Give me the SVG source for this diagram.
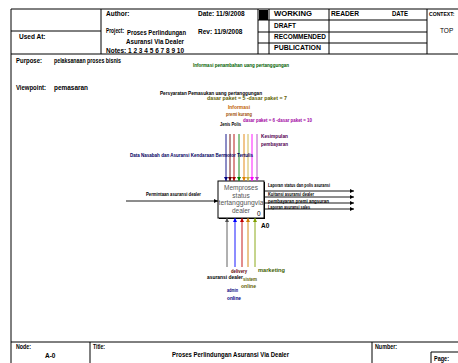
<svg xmlns="http://www.w3.org/2000/svg" width="458" height="363" viewBox="0 0 458 363">
<style>
.f{fill:none;stroke:#000;stroke-width:1}
.h{font-family:"Liberation Sans",Arial,sans-serif;font-size:6.5px;font-weight:bold;fill:#000}
.hn{font-family:"Liberation Sans",Arial,sans-serif;font-size:6.5px;fill:#000}
.l{font-family:"Liberation Sans",Arial,sans-serif;font-size:5px;font-weight:bold}
.bx{font-family:"Liberation Sans",Arial,sans-serif;font-size:6.5px;fill:#555;text-anchor:middle}
.a{stroke-width:0.9;fill:none}
</style>
<defs>
<marker id="ar" viewBox="0 0 6 6" refX="6" refY="3" markerWidth="4" markerHeight="4" orient="auto" markerUnits="userSpaceOnUse"><path d="M0,0L6,3L0,6z" fill="context-stroke"/></marker>
</defs>
<rect width="458" height="363" fill="#fff"/>
<g id="frame">
<path class="f" d="M11,370V9H470M11,54H470M11,342H470M101,9V54M11,31H101M258,9V54M269,9V54M329,9V54M427,9V54M258,20H427M258,32H427M258,43H427M90,342V370M372,342V370M431,370V352H470"/>
<rect x="259" y="10" width="9" height="10" fill="#000"/>
<text class="h" x="106" y="16">Author:</text>
<text class="h" x="198" y="16">Date: 11/9/2008</text>
<text class="h" x="106" y="33" textLength="18" lengthAdjust="spacingAndGlyphs">Project:</text>
<text class="h" x="127" y="35" textLength="59" lengthAdjust="spacingAndGlyphs">Proses Perlindungan</text>
<text class="h" x="126" y="44" textLength="58" lengthAdjust="spacingAndGlyphs">Asuransi Via Dealer</text>
<text class="h" x="106" y="53">Notes:  1 2 3 4 5 6 7 8 9 10</text>
<text class="h" x="198" y="34">Rev: 11/9/2008</text>
<text class="h" x="19" y="39">Used At:</text>
<text class="h" x="274" y="16" textLength="38" lengthAdjust="spacingAndGlyphs">WORKING</text>
<text class="h" x="274" y="28" textLength="22" lengthAdjust="spacingAndGlyphs">DRAFT</text>
<text class="h" x="274" y="39" textLength="52" lengthAdjust="spacingAndGlyphs">RECOMMENDED</text>
<text class="h" x="274" y="50" textLength="47" lengthAdjust="spacingAndGlyphs">PUBLICATION</text>
<text class="h" x="331" y="16" textLength="28" lengthAdjust="spacingAndGlyphs">READER</text>
<text class="h" x="392" y="16" textLength="16" lengthAdjust="spacingAndGlyphs">DATE</text>
<text class="h" x="429" y="16" style="font-size:5.1px">CONTEXT:</text>
<text class="hn" x="440" y="33">TOP</text>
<text class="h" x="16" y="63" textLength="26" lengthAdjust="spacingAndGlyphs">Purpose:</text>
<text class="h" x="54" y="63" textLength="67" lengthAdjust="spacingAndGlyphs">pelaksanaan proses bisnis</text>
<text class="h" x="16" y="90" textLength="30" lengthAdjust="spacingAndGlyphs">Viewpoint:</text>
<text class="h" x="54" y="90" textLength="34" lengthAdjust="spacingAndGlyphs">pemasaran</text>
<text class="h" x="16" y="349" textLength="15" lengthAdjust="spacingAndGlyphs">Node:</text>
<text class="h" x="45" y="358">A-0</text>
<text class="h" x="93" y="349" textLength="12" lengthAdjust="spacingAndGlyphs">Title:</text>
<text class="h" x="172" y="357" textLength="117" lengthAdjust="spacingAndGlyphs">Proses Perlindungan Asuransi Via Dealer</text>
<text class="h" x="375" y="349" textLength="22" lengthAdjust="spacingAndGlyphs">Number:</text>
<text class="h" x="434" y="361" textLength="15" lengthAdjust="spacingAndGlyphs">Page:</text>
</g>
<g id="node-A0">
<rect x="219" y="182" width="46" height="37" fill="#000"/>
<rect x="218" y="181" width="46" height="37" fill="#fff" stroke="#000" stroke-width="1"/>
<text class="bx" x="241" y="190">Memproses</text>
<text class="bx" x="241" y="198">status</text>
<text class="bx" x="241" y="205" textLength="45" lengthAdjust="spacingAndGlyphs">tertanggungvia</text>
<text class="bx" x="241" y="213">dealer</text>
<text class="hn" x="257" y="216" font-size="6">0</text>
<text class="h" x="261" y="228">A0</text>
</g>
<g id="connectors">
<line class="a" x1="226" y1="134" x2="226" y2="181" stroke="#000080" marker-end="url(#ar)"/>
<line class="a" x1="230" y1="134" x2="230" y2="181" stroke="#600000" marker-end="url(#ar)"/>
<line class="a" x1="234" y1="134" x2="234" y2="181" stroke="#b00000" marker-end="url(#ar)"/>
<line class="a" x1="239" y1="134" x2="239" y2="181" stroke="#008000" marker-end="url(#ar)"/>
<line class="a" x1="244" y1="134" x2="244" y2="181" stroke="#e08000" marker-end="url(#ar)"/>
<line class="a" x1="248" y1="134" x2="248" y2="181" stroke="#c8b040" marker-end="url(#ar)"/>
<line class="a" x1="252" y1="134" x2="252" y2="181" stroke="#ff00ff" marker-end="url(#ar)"/>
<line class="a" x1="257" y1="134" x2="257" y2="181" stroke="#b040c0" marker-end="url(#ar)"/>
<line class="a" x1="126" y1="201" x2="218" y2="201" stroke="#000" marker-end="url(#ar)"/>
<line class="a" x1="264" y1="191" x2="354" y2="191" stroke="#000" marker-end="url(#ar)"/>
<line class="a" x1="264" y1="197" x2="354" y2="197" stroke="#000" marker-end="url(#ar)"/>
<line class="a" x1="264" y1="203" x2="354" y2="203" stroke="#000" marker-end="url(#ar)"/>
<line class="a" x1="264" y1="209" x2="354" y2="209" stroke="#000" marker-end="url(#ar)"/>
<line class="a" x1="227" y1="267" x2="227" y2="218" stroke="#505050" marker-end="url(#ar)"/>
<line class="a" x1="235" y1="267" x2="235" y2="218" stroke="#0000ff" marker-end="url(#ar)"/>
<line class="a" x1="242" y1="267" x2="242" y2="218" stroke="#c00000" marker-end="url(#ar)"/>
<line class="a" x1="248" y1="267" x2="248" y2="218" stroke="#d08000" marker-end="url(#ar)"/>
<line class="a" x1="255" y1="267" x2="255" y2="218" stroke="#80a000" marker-end="url(#ar)"/>
<text class="l" x="193" y="67" fill="#006000" textLength="96" lengthAdjust="spacingAndGlyphs">Informasi penambahan uang pertanggungan</text>
<text class="l" x="160" y="95" fill="#000" textLength="102" lengthAdjust="spacingAndGlyphs">Persyaratan Pemasukan uang pertanggungan</text>
<text class="l" x="207" y="100" fill="#606000" textLength="80" lengthAdjust="spacingAndGlyphs">dasar paket = 5 -dasar paket = 7</text>
<text class="l" x="228" y="109" fill="#c06000" textLength="22" lengthAdjust="spacingAndGlyphs">Informasi</text>
<text class="l" x="226" y="116" fill="#a05000" textLength="26" lengthAdjust="spacingAndGlyphs">premi kurang</text>
<text class="l" x="243" y="122" fill="#a000a0" textLength="69" lengthAdjust="spacingAndGlyphs">dasar paket = 6 -dasar paket = 10</text>
<text class="l" x="220" y="126" fill="#000" textLength="21" lengthAdjust="spacingAndGlyphs">Jenis Polis</text>
<text class="l" x="261" y="138" fill="#500050" textLength="27" lengthAdjust="spacingAndGlyphs">Kesimpulan</text>
<text class="l" x="261" y="146" fill="#500050" textLength="27" lengthAdjust="spacingAndGlyphs">pembayaran</text>
<text class="l" x="130" y="157" fill="#000060" textLength="123" lengthAdjust="spacingAndGlyphs">Data Nasabah dan Asuransi Kendaraan Bermotor Tertulis</text>
<text class="l" x="146" y="196" fill="#000" textLength="55" lengthAdjust="spacingAndGlyphs">Permintaan asuransi dealer</text>
<text class="l" x="268" y="187" fill="#000" textLength="62" lengthAdjust="spacingAndGlyphs">Laporan status dan polis asuransi</text>
<text class="l" x="268" y="196" fill="#000" textLength="46" lengthAdjust="spacingAndGlyphs">Kuitansi asuransi dealer</text>
<text class="l" x="268" y="203" fill="#000" textLength="61" lengthAdjust="spacingAndGlyphs">pembayaran premi angsuran</text>
<text class="l" x="268" y="209" fill="#000" textLength="42" lengthAdjust="spacingAndGlyphs">Laporan asuransi sales</text>
<text class="l" x="231" y="273" fill="#600000" textLength="16" lengthAdjust="spacingAndGlyphs">delivery</text>
<text class="l" x="258" y="272" fill="#406000" textLength="27" lengthAdjust="spacingAndGlyphs">marketing</text>
<text class="l" x="207" y="279" fill="#000" textLength="36" lengthAdjust="spacingAndGlyphs">asuransi dealer</text>
<text class="l" x="243" y="281" fill="#606000" textLength="14" lengthAdjust="spacingAndGlyphs">sistem</text>
<text class="l" x="241" y="288" fill="#606000" textLength="15" lengthAdjust="spacingAndGlyphs">online</text>
<text class="l" x="227" y="292" fill="#000080" textLength="11" lengthAdjust="spacingAndGlyphs">admin</text>
<text class="l" x="227" y="300" fill="#000080" textLength="14" lengthAdjust="spacingAndGlyphs">online</text>
</g>
</svg>
